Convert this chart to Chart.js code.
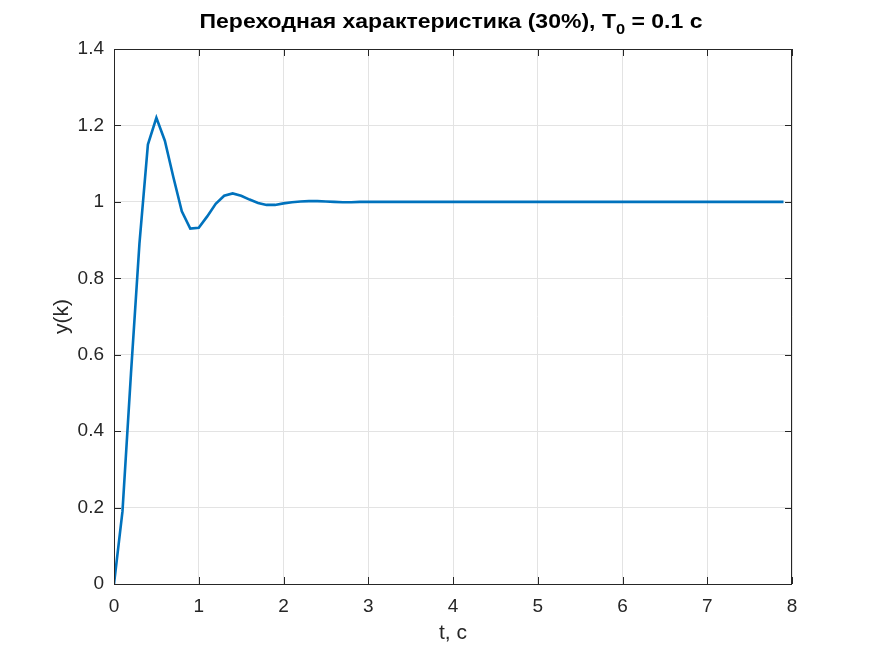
<!DOCTYPE html>
<html>
<head>
<meta charset="utf-8">
<script src="https://cdn.jsdelivr.net/npm/chart.js@4"></script>
<style>
  html, body { margin: 0; padding: 0; background: #fff; }
  #wrap { width: 875px; height: 656px; }
</style>
</head>
<body>
<div id="wrap"><canvas id="stepChart" width="875" height="656"></canvas></div>
<script>
const TITLE_MAIN = "Переходная характеристика (30%), T";
const TITLE_SUB = "0";
const TITLE_TAIL = " = 0.1 с";
const X_LABEL = "t, с";
const Y_LABEL = "y(k)";

const timeValues = [
  0, 0.1, 0.2, 0.3, 0.4, 0.5, 0.6, 0.7, 0.8, 0.9,
  1.0, 1.1, 1.2, 1.3, 1.4, 1.5, 1.6, 1.7, 1.8, 1.9,
  2.0, 2.1, 2.2, 2.3, 2.4, 2.5, 2.6, 2.7, 2.8, 2.9,
  3.0, 3.1, 3.2, 3.3, 3.4, 3.5, 3.6, 3.7, 3.8, 3.9,
  4.0, 4.1, 4.2, 4.3, 4.4, 4.5, 4.6, 4.7, 4.8, 4.9,
  5.0, 5.1, 5.2, 5.3, 5.4, 5.5, 5.6, 5.7, 5.8, 5.9,
  6.0, 6.1, 6.2, 6.3, 6.4, 6.5, 6.6, 6.7, 6.8, 6.9,
  7.0, 7.1, 7.2, 7.3, 7.4, 7.5, 7.6, 7.7, 7.8, 7.9,
];

const responseValues = [
  0, 0.19, 0.55, 0.89, 1.15, 1.22, 1.16, 1.065, 0.975, 0.93,
  0.932, 0.962, 0.995, 1.016, 1.022, 1.016, 1.006, 0.997, 0.992, 0.992,
  0.996, 0.999, 1.001, 1.002, 1.002, 1.001, 1.0, 0.999, 0.999, 1.0,
  1, 1, 1, 1, 1, 1, 1, 1, 1, 1,
  1, 1, 1, 1, 1, 1, 1, 1, 1, 1,
  1, 1, 1, 1, 1, 1, 1, 1, 1, 1,
  1, 1, 1, 1, 1, 1, 1, 1, 1, 1,
  1, 1, 1, 1, 1, 1, 1, 1, 1, 1,
];

const xTicks = [0, 1, 2, 3, 4, 5, 6, 7, 8];
const yTicks = [0, 0.2, 0.4, 0.6, 0.8, 1, 1.2, 1.4];

const AXIS_COLOR = "#262626";
const FONT = "'Liberation Sans', Arial, sans-serif";

// box, inward ticks, title with subscript and axis labels (MATLAB look)
const matlabFrame = {
  id: "matlabFrame",
  afterDraw(chart) {
    const { ctx, chartArea: a, scales } = chart;
    ctx.save();
    ctx.strokeStyle = AXIS_COLOR;
    ctx.lineWidth = 1;
    ctx.strokeRect(a.left + 0.5, a.top + 0.5, a.right - a.left - 1, a.bottom - a.top);

    const tick = 7;
    ctx.beginPath();
    xTicks.forEach((v) => {
      const px = Math.round(scales.x.getPixelForValue(v)) + 0.5;
      ctx.moveTo(px, a.bottom);
      ctx.lineTo(px, a.bottom - tick);
      ctx.moveTo(px, a.top);
      ctx.lineTo(px, a.top + tick);
    });
    yTicks.forEach((v) => {
      const py = Math.round(scales.y.getPixelForValue(v)) + 0.5;
      ctx.moveTo(a.left, py);
      ctx.lineTo(a.left + tick, py);
      ctx.moveTo(a.right, py);
      ctx.lineTo(a.right - tick, py);
    });
    ctx.stroke();

    // title
    ctx.fillStyle = "#000";
    ctx.textBaseline = "alphabetic";
    ctx.textAlign = "left";
    const mainFont = "bold 21px " + FONT;
    const subFont = "bold 15px " + FONT;
    ctx.font = mainFont;
    const w1 = ctx.measureText(TITLE_MAIN).width;
    const w3 = ctx.measureText(TITLE_TAIL).width;
    ctx.font = subFont;
    const w2 = ctx.measureText(TITLE_SUB).width;
    const total = w1 + w2 + w3;
    const sx = 503 / total;
    const x0 = 451 - 503 / 2;
    const base = 28;
    ctx.translate(x0, base);
    ctx.scale(sx, 1);
    ctx.font = mainFont;
    ctx.fillText(TITLE_MAIN, 0, 0);
    ctx.font = subFont;
    ctx.fillText(TITLE_SUB, w1, 6);
    ctx.font = mainFont;
    ctx.fillText(TITLE_TAIL, w1 + w2, 0);
    ctx.setTransform(1, 0, 0, 1, 0, 0);

    // axis labels
    ctx.fillStyle = AXIS_COLOR;
    ctx.font = "21px " + FONT;
    ctx.textAlign = "center";
    ctx.textBaseline = "middle";
    ctx.fillText(X_LABEL, (a.left + a.right) / 2, 633);
    ctx.translate(62, (a.top + a.bottom) / 2);
    ctx.rotate(-Math.PI / 2);
    ctx.fillText(Y_LABEL, 0, 0);
    ctx.restore();
  },
};

new Chart(document.getElementById("stepChart"), {
  type: "line",
  data: {
    datasets: [
      {
        label: "y(k)",
        data: timeValues.map((t, i) => ({ x: t, y: responseValues[i] })),
        borderColor: "#0072BD",
        borderWidth: 2.6,
        pointRadius: 0,
        tension: 0,
        fill: false,
      },
    ],
  },
  options: {
    responsive: false,
    animation: false,
    devicePixelRatio: 1,
    layout: { padding: { top: 49, right: 83, bottom: 0, left: 0 } },
    plugins: {
      legend: { display: false },
      title: { display: false },
      tooltip: { enabled: false },
    },
    scales: {
      x: {
        type: "linear",
        min: 0,
        max: 8,
        afterFit: (s) => { s.height = 72; },
        afterBuildTicks: (s) => { s.ticks = xTicks.map((v) => ({ value: v })); },
        ticks: {
          color: AXIS_COLOR,
          font: { family: FONT, size: 19 },
          padding: 11,
          maxRotation: 0,
          callback: (v) => String(v),
        },
        grid: { color: "#e3e3e3", drawTicks: false },
        border: { display: false },
      },
      y: {
        type: "linear",
        min: 0,
        max: 1.4,
        afterFit: (s) => { s.width = 114; },
        afterBuildTicks: (s) => { s.ticks = yTicks.map((v) => ({ value: v })); },
        ticks: {
          color: AXIS_COLOR,
          font: { family: FONT, size: 19 },
          padding: 10,
          callback: (v) => String(Number(v.toFixed(1))),
        },
        grid: { color: "#e3e3e3", drawTicks: false },
        border: { display: false },
      },
    },
  },
  plugins: [matlabFrame],
});
</script>
</body>
</html>
